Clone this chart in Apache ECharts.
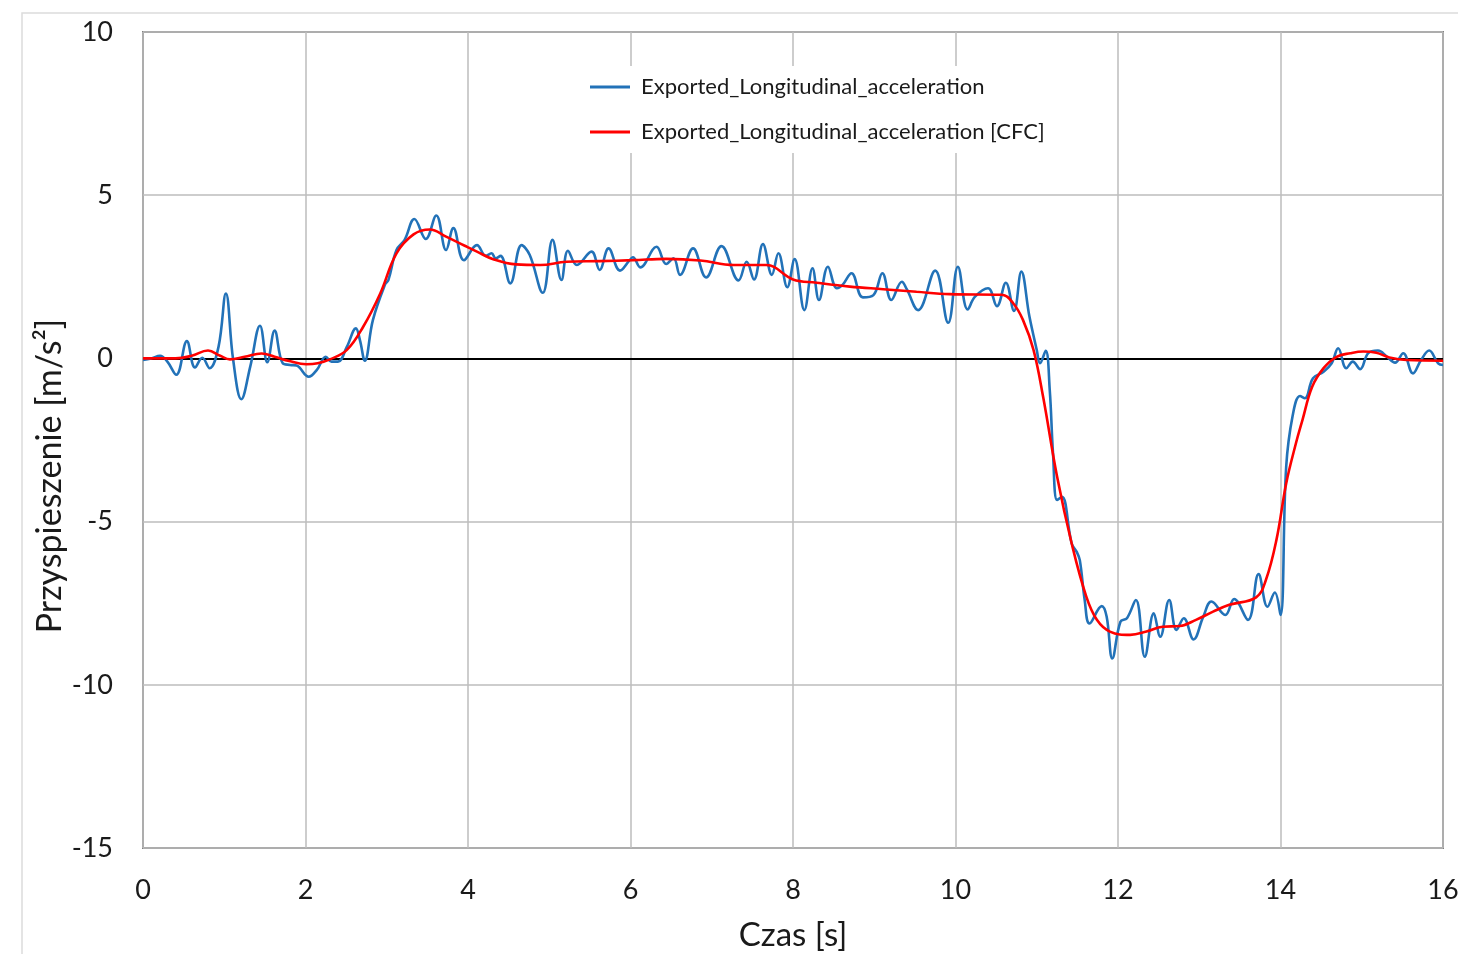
<!DOCTYPE html>
<html>
<head>
<meta charset="utf-8">
<script src="https://cdn.jsdelivr.net/npm/echarts@6/dist/echarts.min.js"></script>
<style>
html,body{margin:0;padding:0;background:#fff;}
#chart{width:1458px;height:954px;}
</style>
</head>
<body>
<div id="chart"></div>
<script>
// Series names
const seriesNames = ['Exported_Longitudinal_acceleration', 'Exported_Longitudinal_acceleration [CFC]'];
// Axis titles
const xTitle = 'Czas [s]';
const yTitle = 'Przyspieszenie [m/s²]';
// Axis ranges / ticks
const xTicks = [0, 2, 4, 6, 8, 10, 12, 14, 16];
const yTicks = [-15, -10, -5, 0, 5, 10];

// Raw signal [time s, acceleration m/s^2]
const rawData = [
  [0.00,-0.05],[0.10,0.00],[0.21,0.08],[0.30,-0.10],[0.41,-0.50],[0.54,0.53],[0.64,-0.28],[0.73,0.02],
  [0.82,-0.30],[0.93,0.36],[1.02,1.99],[1.11,-0.05],[1.21,-1.25],[1.32,-0.25],[1.44,1.00],[1.53,-0.12],
  [1.62,0.85],[1.72,-0.15],[1.81,-0.20],[1.89,-0.22],[2.04,-0.56],[2.14,-0.35],[2.25,0.05],[2.32,-0.10],
  [2.40,-0.10],[2.51,0.36],[2.62,0.92],[2.67,0.56],[2.73,-0.07],[2.83,1.18],[2.98,2.27],[3.02,2.40],
  [3.12,3.32],[3.22,3.63],[3.34,4.27],[3.48,3.66],[3.61,4.38],[3.73,3.32],[3.82,3.99],[3.95,3.01],
  [4.11,3.47],[4.22,3.14],[4.29,3.22],[4.34,3.07],[4.40,3.14],[4.52,2.30],[4.66,3.47],[4.76,3.17],
  [4.92,2.01],[5.04,3.63],[5.15,2.40],[5.23,3.30],[5.34,2.86],[5.52,3.27],[5.62,2.71],[5.73,3.37],
  [5.87,2.69],[5.99,3.01],[6.03,3.10],[6.12,2.79],[6.32,3.42],[6.44,2.89],[6.53,3.07],[6.61,2.56],
  [6.77,3.37],[6.93,2.48],[7.12,3.44],[7.33,2.39],[7.43,2.96],[7.52,2.42],[7.63,3.50],[7.74,2.56],
  [7.82,3.22],[7.93,2.18],[8.02,3.04],[8.14,1.48],[8.24,2.76],[8.32,1.79],[8.43,2.81],[8.54,2.15],
  [8.61,2.25],[8.72,2.61],[8.86,1.87],[8.99,1.94],[9.10,2.61],[9.21,1.79],[9.34,2.35],[9.40,2.12],
  [9.54,1.48],[9.75,2.69],[9.91,1.09],[10.03,2.81],[10.15,1.50],[10.24,1.89],[10.40,2.15],[10.51,1.60],
  [10.62,2.32],[10.72,1.45],[10.81,2.66],[10.91,1.28],[11.00,0.26],[11.04,-0.15],[11.11,0.23],[11.16,-0.97],
  [11.20,-2.90],[11.25,-4.34],[11.31,-4.24],[11.43,-5.67],[11.49,-5.92],[11.53,-6.18],[11.59,-7.40],[11.65,-8.12],
  [11.80,-7.59],[11.86,-7.91],[11.93,-9.19],[12.03,-8.07],[12.11,-7.96],[12.22,-7.40],[12.33,-9.14],[12.44,-7.81],
  [12.52,-8.53],[12.63,-7.40],[12.72,-8.32],[12.81,-7.96],[12.93,-8.61],[13.05,-7.91],[13.15,-7.45],[13.32,-7.86],
  [13.43,-7.37],[13.60,-8.01],[13.73,-6.61],[13.84,-7.61],[13.93,-7.17],[14.00,-7.86],[14.07,-3.32],[14.15,-1.75],
  [14.24,-1.15],[14.30,-1.22],[14.40,-0.61],[14.53,-0.41],[14.63,-0.15],[14.71,0.31],[14.81,-0.30],[14.89,-0.10],
  [14.98,-0.33],[15.08,0.16],[15.20,0.24],[15.31,0.05],[15.41,-0.13],[15.51,0.16],[15.63,-0.46],[15.73,-0.05],
  [15.83,0.24],[15.94,-0.15],[16.00,-0.20]
];

// CFC-filtered signal [time s, acceleration m/s^2]
const cfcData = [
  [0.00,0.00],[0.40,0.00],[0.60,0.08],[0.80,0.24],[0.95,0.08],[1.07,-0.03],[1.25,0.05],[1.46,0.15],
  [1.62,0.05],[1.80,-0.08],[2.01,-0.18],[2.15,-0.15],[2.30,-0.03],[2.51,0.26],[2.71,0.97],[2.92,1.99],
  [3.12,3.22],[3.33,3.80],[3.53,3.95],[3.73,3.73],[3.96,3.45],[4.11,3.27],[4.31,3.04],[4.59,2.88],
  [4.89,2.86],[5.21,2.96],[5.62,2.98],[6.03,3.01],[6.44,3.05],[6.86,3.00],[7.27,2.86],[7.67,2.86],
  [8.00,2.42],[8.29,2.32],[8.70,2.20],[9.11,2.12],[9.52,2.04],[9.93,1.97],[10.57,1.95],[10.71,1.69],
  [10.83,1.18],[10.96,0.26],[11.08,-1.20],[11.25,-3.62],[11.43,-5.67],[11.61,-7.30],[11.74,-8.01],[11.90,-8.37],
  [12.15,-8.47],[12.35,-8.37],[12.55,-8.22],[12.76,-8.20],[12.96,-8.01],[13.17,-7.76],[13.37,-7.55],[13.70,-7.32],
  [13.82,-6.79],[13.95,-5.56],[14.07,-3.83],[14.19,-2.60],[14.27,-1.89],[14.39,-0.87],[14.53,-0.30],[14.69,0.05],
  [14.86,0.16],[15.02,0.21],[15.18,0.17],[15.34,0.03],[15.55,-0.05],[16.00,-0.07]
];

const FONT = 'Lato';
const chart = echarts.init(document.getElementById('chart'), null, {renderer: 'canvas'});
chart.setOption({
  animation: false,
  backgroundColor: '#ffffff',
  textStyle: {fontFamily: FONT},
  grid: {
    left: 143, right: 15, top: 32, bottom: 106,
    containLabel: false, outerBoundsMode: 'none',
    show: true, borderColor: '#808080', borderWidth: 2, backgroundColor: 'transparent'
  },
  legend: {
    orient: 'vertical',
    left: 580, top: 66,
    padding: [10, 12, 10, 10],
    backgroundColor: '#ffffff',
    icon: 'rect',
    itemWidth: 40, itemHeight: 3,
    itemGap: 23,
    textStyle: {fontFamily: FONT, fontSize: 22, color: '#1a1a1a', padding: [0, 0, 0, 6]},
    data: seriesNames
  },
  xAxis: {
    type: 'value',
    min: xTicks[0], max: xTicks[xTicks.length - 1], interval: 2,
    name: xTitle, nameLocation: 'middle', nameGap: 87,
    nameTextStyle: {fontFamily: FONT, fontSize: 33, color: '#1a1a1a', verticalAlign: 'middle'},
    axisLine: {show: false},
    axisTick: {show: false},
    axisLabel: {fontFamily: FONT, fontSize: 27, color: '#1a1a1a', margin: 29},
    splitLine: {show: true, lineStyle: {color: '#bdbdbd', width: 1.5}}
  },
  yAxis: {
    type: 'value',
    min: yTicks[0], max: yTicks[yTicks.length - 1], interval: 5,
    axisLine: {show: false},
    axisTick: {show: false},
    axisLabel: {fontFamily: FONT, fontSize: 27, color: '#1a1a1a', margin: 30},
    splitLine: {show: true, lineStyle: {color: '#bdbdbd', width: 1.5}}
  },
  graphic: [
    {
      type: 'polyline', silent: true, z: -1,
      shape: {points: [[22, 954], [22, 13], [1458, 13]]},
      style: {stroke: '#dcdcdc', lineWidth: 1.5, fill: null}
    },
    {
      type: 'text', silent: true,
      x: 50, y: 476, rotation: Math.PI / 2,
      style: {
        text: yTitle, fontFamily: FONT, fontSize: 34, fill: '#1a1a1a',
        align: 'center', verticalAlign: 'middle'
      }
    }
  ],
  series: [
    {
      name: seriesNames[0], type: 'line', data: rawData,
      smooth: 0.4, showSymbol: false, symbol: 'none',
      color: '#2272b8',
      lineStyle: {width: 2.6, color: '#2272b8'},
      z: 2,
      markLine: {
        silent: true, symbol: 'none', label: {show: false},
        lineStyle: {color: '#000000', width: 1.8, type: 'solid'},
        data: [{yAxis: 0}],
        z: 1
      }
    },
    {
      name: seriesNames[1], type: 'line', data: cfcData,
      smooth: 0.4, showSymbol: false, symbol: 'none',
      color: '#ff0000',
      lineStyle: {width: 2.6, color: '#ff0000'},
      z: 3
    }
  ]
});
</script>
</body>
</html>
